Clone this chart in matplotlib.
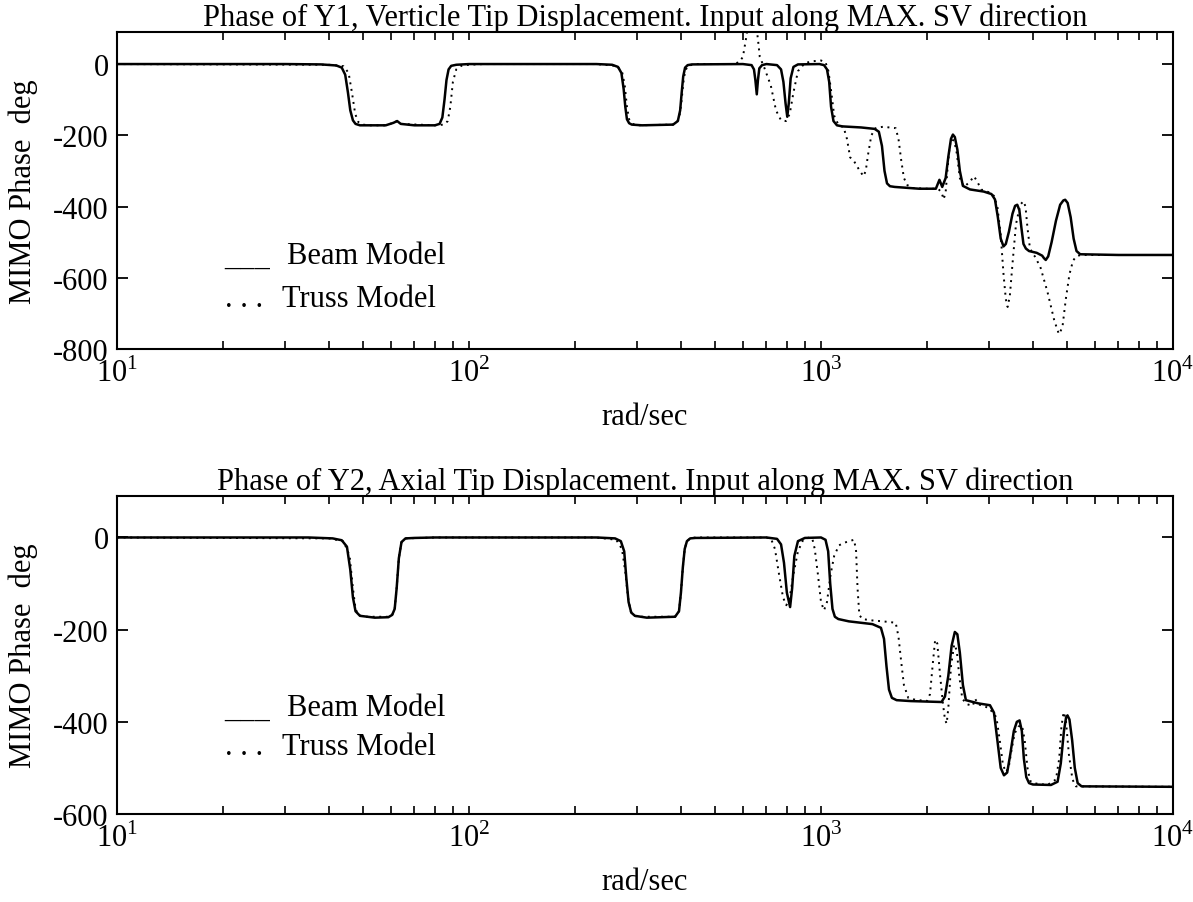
import numpy as np
import matplotlib
matplotlib.use("Agg")
import matplotlib.pyplot as plt
from matplotlib.ticker import LogLocator, FixedLocator, NullFormatter

plt.rcParams['font.family'] = ['Liberation Serif', 'DejaVu Serif']
plt.rcParams['mathtext.fontset'] = 'custom'
plt.rcParams['mathtext.rm'] = 'Liberation Serif'
plt.rcParams['axes.unicode_minus'] = False

# ---------------- data ----------------
# Top panel: Y1 vertical tip displacement
y1_beam_w = [10, 30, 38, 42, 43.5, 44.5, 45.3, 46, 46.8, 47.6, 49, 52, 58, 61, 62.5, 64, 70, 80, 82.5,
             84, 85.2, 86.3, 87.5, 89, 92, 100,
             230, 255, 265, 271, 275, 278, 281, 285, 290, 310, 380, 392, 398, 402, 406, 411, 418, 430,
             600, 635, 645, 651, 657, 662, 668, 680, 700, 750, 770, 782, 793, 802, 810, 820, 835, 860, 990,
             1020, 1040, 1055, 1068, 1085, 1110, 1150, 1300, 1420, 1460, 1490, 1515, 1540, 1570, 1620, 1900,
             2120, 2170, 2210, 2260, 2300, 2340, 2370, 2400, 2440, 2480, 2530, 2650, 2900, 3050, 3120, 3180,
             3240, 3300, 3350, 3420, 3500, 3560, 3610, 3660, 3710, 3760, 3820, 3900, 4100, 4250, 4300, 4350,
             4420, 4520, 4650, 4780, 4880, 4940, 5020, 5120, 5220, 5320, 5450, 7000, 10000]
y1_beam_p = [0, 0, -1, -4, -10, -30, -80, -130, -158, -168, -172, -172, -172, -165, -160, -168, -172, -172, -168,
             -150, -100, -45, -15, -5, -2, 0,
             0, -2, -8, -25, -70, -120, -155, -166, -170, -172, -170, -160, -130, -80, -35, -10, -3, -1,
             0, -3, -15, -45, -85, -45, -12, -3, 0, -3, -15, -50, -110, -148, -110, -40, -8, -1, 0,
             -3, -15, -50, -120, -160, -172, -175, -178, -182, -190, -230, -300, -335, -343, -345, -350,
             -350, -325, -345, -320, -260, -210, -198, -205, -240, -300, -342, -352, -358, -365, -380, -430,
             -490, -512, -505, -470, -420, -398, -395, -410, -460, -505, -518, -525, -530, -538, -545, -550,
             -540, -500, -440, -395, -383, -381, -390, -430, -490, -525, -534, -536, -536]

y1_truss_w = [10, 40, 44, 45.5, 46.5, 47.5, 48.5, 50, 52, 58, 61, 62.5, 64, 80, 85, 87, 88.5, 90, 92, 95, 100, 110,
              230, 262, 272, 277, 281, 285, 292, 300, 380, 395, 401, 406, 411, 418, 430, 445,
              560, 585, 600, 612, 625, 650, 662, 670, 690, 720, 745, 770, 795, 815, 835, 860, 900, 950, 1000,
              1030, 1050, 1070, 1090, 1120, 1160, 1185, 1210, 1240, 1280, 1320, 1340, 1360, 1390, 1430, 1500,
              1630, 1660, 1690, 1720, 1760, 1820, 2000, 2150, 2200, 2230, 2260, 2290, 2320, 2350, 2390, 2430,
              2480, 2550, 2650, 2720, 2780, 2850, 3000, 3100, 3170, 3240, 3300, 3350, 3390, 3440, 3500, 3580,
              3680, 3760, 3810, 3860, 3920, 3980, 4050, 4200, 4400, 4600, 4740, 4850, 4960, 5080, 5200, 5300,
              5420, 5600, 10000]
y1_truss_p = [0, -2, -6, -25, -80, -140, -163, -170, -172, -172, -165, -160, -168, -172, -170, -160, -120, -50, -15, -5, -2, 0,
              0, -5, -20, -60, -120, -155, -168, -172, -170, -155, -110, -55, -20, -6, -2, 0,
              0, 5, 20, 70, 130, 130, 70, 20, -10, -60, -130, -158, -160, -140, -80, -20, 3, 8, 10,
              5, -20, -80, -145, -170, -178, -210, -262, -272, -295, -315, -300, -255, -200, -180, -176,
              -180, -210, -270, -320, -340, -348, -350, -350, -360, -380, -360, -290, -230, -212, -215, -250,
              -320, -345, -330, -315, -330, -352, -360, -370, -400, -480, -590, -660, -682, -650, -560, -450,
              -395, -385, -400, -460, -515, -530, -540, -570, -640, -720, -758, -740, -660, -590, -552, -541,
              -537, -536, -536]

# Bottom panel: Y2 axial tip displacement
y2_beam_w = [10, 35, 41, 43.5, 45, 46, 46.8, 47.6, 49, 54, 59, 60.5, 61.5, 62.3, 63.2, 64.3, 66, 70, 80,
             230, 260, 270, 276, 280, 284, 289, 296, 320, 385, 395, 400, 405, 410, 416, 425, 440,
             700, 750, 770, 785, 800, 817, 828, 840, 860, 900, 1000, 1030, 1048, 1062, 1078, 1095, 1120, 1200,
             1400, 1480, 1510, 1535, 1560, 1590, 1640, 1800, 2200, 2250, 2300, 2350, 2400, 2440, 2480, 2530,
             2580, 2800, 3020, 3100, 3170, 3240, 3310, 3380, 3450, 3530, 3600, 3665, 3720, 3770, 3830, 3900,
             4000, 4500, 4700, 4800, 4900, 4970, 5015, 5080, 5170, 5260, 5360, 5500, 10000]
y2_beam_p = [0, 0, -2, -6, -20, -70, -130, -160, -170, -174, -173, -168, -155, -110, -45, -10, -2, -1, 0,
             0, -2, -8, -30, -90, -140, -163, -170, -174, -172, -160, -120, -65, -25, -8, -2, -1,
             0, -3, -15, -55, -120, -151, -110, -40, -8, -1, 0, -5, -30, -100, -155, -172, -177, -182,
             -188, -196, -220, -280, -330, -348, -353, -355, -357, -345, -300, -235, -205, -210, -250, -320,
             -353, -360, -364, -380, -440, -500, -516, -510, -470, -420, -400, -397, -420, -480, -520, -533,
             -536, -537, -530, -490, -420, -390, -386, -395, -440, -500, -533, -540, -541]

y2_truss_w = [10, 40, 44, 45.8, 46.8, 47.6, 48.5, 50, 53, 59, 60.5, 61.5, 62.3, 63.2, 64.3, 66, 80,
              230, 262, 272, 278, 283, 288, 294, 305, 385, 395, 400, 405, 410, 416, 425, 440,
              700, 723, 740, 760, 780, 797, 815, 835, 860, 890, 925, 945, 960, 980, 1000, 1020, 1040, 1065,
              1090, 1125, 1160, 1200, 1242, 1258, 1270, 1285, 1310, 1400, 1500, 1630, 1660, 1690, 1720, 1770,
              1850, 2000, 2040, 2080, 2110, 2140, 2180, 2220, 2250, 2275, 2300, 2340, 2390, 2430, 2470, 2520,
              2600, 2700, 2740, 2800, 3000, 3150, 3220, 3290, 3360, 3420, 3480, 3550, 3640, 3725, 3790, 3860,
              3930, 4000, 4400, 4650, 4750, 4820, 4890, 4960, 5060, 5180, 5300, 10000]
y2_truss_p = [0, -2, -8, -40, -110, -155, -168, -172, -172, -172, -168, -155, -110, -45, -10, -2, 0,
              0, -5, -25, -75, -130, -160, -170, -172, -172, -160, -120, -65, -25, -8, -2, 0,
              0, -5, -25, -80, -130, -147, -130, -80, -30, -5, 0, -3, -25, -80, -140, -158, -140, -80,
              -40, -17, -12, -8, -5, -30, -110, -168, -177, -180, -182, -185, -215, -270, -320, -348,
              -352, -355, -340, -270, -222, -230, -300, -360, -395, -404, -370, -280, -232, -245, -300, -350,
              -362, -365, -350, -362, -370, -390, -440, -495, -509, -495, -460, -425, -410, -408, -440, -500,
              -528, -533, -537, -525, -480, -410, -379, -395, -470, -525, -540, -541]

titles = ["Phase of Y1, Verticle Tip Displacement. Input along MAX. SV direction",
          "Phase of Y2, Axial Tip Displacement. Input along MAX. SV direction"]
ylims = [(-800, 90), (-600, 90)]
yticks = [[-800, -600, -400, -200, 0], [-600, -400, -200, 0]]
xticks = [10, 100, 1000, 10000]
series_labels = ["Beam Model", "Truss Model"]

# ---------------- figure ----------------
fig = plt.figure(figsize=(11.93, 9.03), dpi=100)
W, H = 1193, 903
boxes = [(117, 33, 1173, 350), (117, 497, 1173, 815)]
FS = 22

panels = [(y1_beam_w, y1_beam_p, y1_truss_w, y1_truss_p),
          (y2_beam_w, y2_beam_p, y2_truss_w, y2_truss_p)]
legend_y = [(0.27, 0.135), (0.31, 0.19)]

for i, (bw, bp, tw, tp) in enumerate(panels):
    l, t, r, b = boxes[i]
    ax = fig.add_axes([l / W, 1 - b / H, (r - l) / W, (b - t) / H])
    ax.plot(bw, bp, color='black', lw=1.8, solid_joinstyle='round')
    ax.plot(tw, tp, color='black', lw=1.4, linestyle=(0, (1, 2.4)))
    ax.set_xscale('log')
    ax.set_xlim(10, 10000)
    ax.set_ylim(*ylims[i])
    ax.set_yticks(yticks[i])
    ax.set_yticklabels([str(v) for v in yticks[i]])
    ax.xaxis.set_major_locator(FixedLocator(xticks))
    ax.set_xticklabels([r'$10^{%d}$' % int(np.log10(v)) for v in xticks])
    ax.xaxis.set_minor_locator(LogLocator(base=10, subs=np.arange(2, 10)))
    ax.xaxis.set_minor_formatter(NullFormatter())
    for sp in ax.spines.values():
        sp.set_linewidth(1.5)
    ax.tick_params(axis='y', which='major', direction='in', length=8, width=1.3,
                   left=True, right=True, labelsize=FS, pad=6)
    ax.tick_params(axis='x', which='both', direction='in', length=6, width=1.2,
                   top=True, bottom=True, labelsize=FS, pad=6)
    ax.set_title(titles[i], fontsize=FS, pad=3.5)
    ax.set_xlabel('rad/sec', fontsize=FS, labelpad=10)
    ax.set_ylabel('MIMO Phase  deg', fontsize=FS)
    ax.yaxis.set_label_coords(-0.075, 0.5)
    ax.text(0.102, legend_y[i][0], '___', transform=ax.transAxes, fontsize=FS, va='baseline')
    ax.text(0.161, legend_y[i][0], series_labels[0], transform=ax.transAxes, fontsize=FS, va='baseline')
    ax.text(0.102, legend_y[i][1], '. . .', transform=ax.transAxes, fontsize=FS, va='baseline')
    ax.text(0.156, legend_y[i][1], series_labels[1], transform=ax.transAxes, fontsize=FS, va='baseline')

fig.savefig('out.png', dpi=100)
